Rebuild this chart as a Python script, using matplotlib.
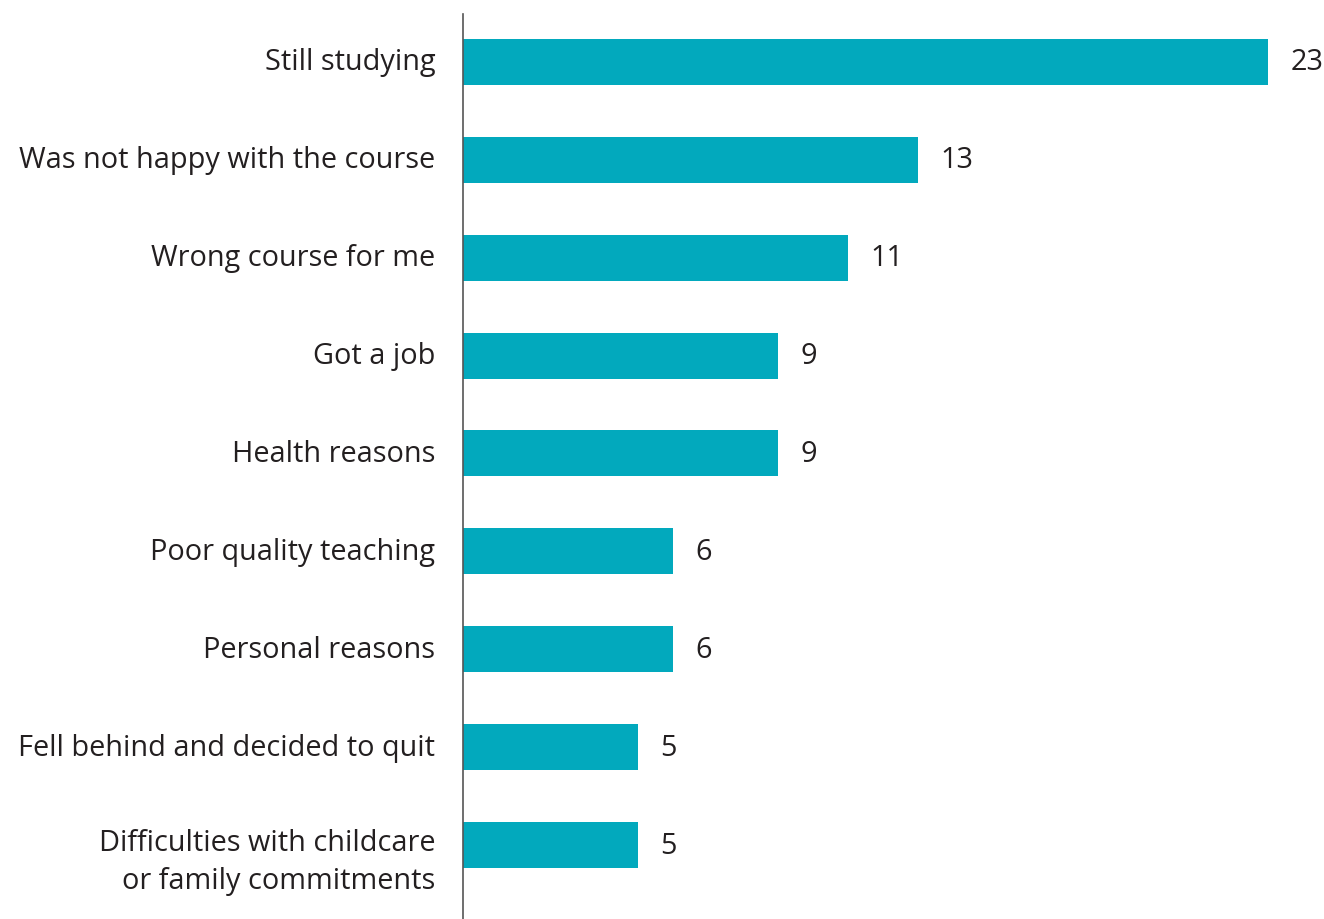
import matplotlib
matplotlib.use("Agg")
import matplotlib.pyplot as plt

categories = [
    "Still studying",
    "Was not happy with the course",
    "Wrong course for me",
    "Got a job",
    "Health reasons",
    "Poor quality teaching",
    "Personal reasons",
    "Fell behind and decided to quit",
    "Difficulties with childcare\nor family commitments",
]
values = [23, 13, 11, 9, 9, 6, 6, 5, 5]

BAR_COLOR = "#02A9BD"
TEXT_COLOR = "#231F20"
FONT = "Open Sans"
SIZE = 20.8

W, H, DPI = 1324, 920, 100
fig = plt.figure(figsize=(W / DPI, H / DPI), dpi=DPI)
left_px, top_px = 463, 15
px_per_unit = 35.0
ax = fig.add_axes([left_px / W, 0, 1 - left_px / W, 1 - top_px / H])

pos = list(range(len(values)))
ax.barh(pos, values, height=0.47, color=BAR_COLOR, zorder=2)

ax.set_xlim(0, (W - left_px) / px_per_unit)
ax.set_ylim(8.756, -0.49)

for s in ("top", "right", "bottom"):
    ax.spines[s].set_visible(False)
ax.spines["left"].set_color("#555555")
ax.spines["left"].set_linewidth(1.2)
ax.set_xticks([])
ax.set_yticks([])

for y, v in zip(pos, values):
    ax.annotate(str(v), xy=(v, y), xytext=(16, 0), textcoords="offset points",
                va="center", ha="left", fontsize=SIZE, family=FONT, color=TEXT_COLOR)

for y, lab in zip(pos, categories):
    nlines = lab.count("\n") + 1
    dy = -(nlines - 1) * 12
    ax.annotate(lab, xy=(0, y), xytext=(-20, dy), textcoords="offset points",
                va="center", ha="right", fontsize=SIZE, family=FONT, color=TEXT_COLOR,
                linespacing=1.4, annotation_clip=False)

fig.savefig("out.png", dpi=DPI)
